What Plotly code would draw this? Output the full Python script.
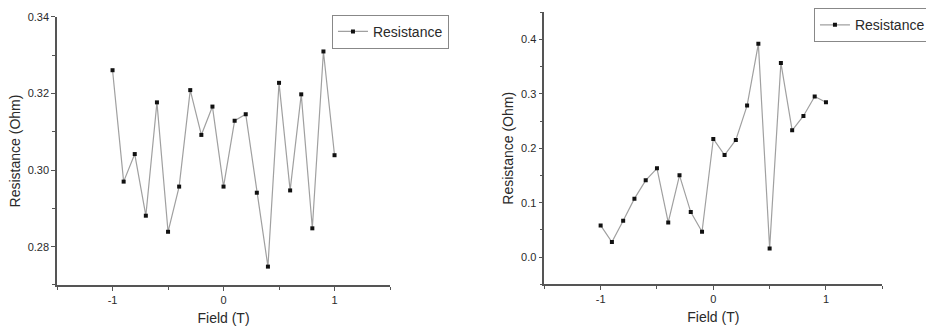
import plotly.graph_objects as go

field = [-1.0, -0.9, -0.8, -0.7, -0.6, -0.5, -0.4, -0.3, -0.2, -0.1, 0.0,
         0.1, 0.2, 0.3, 0.4, 0.5, 0.6, 0.7, 0.8, 0.9, 1.0]
res_left = [0.3261, 0.2970, 0.3042, 0.2881, 0.3177, 0.2839, 0.2957, 0.3209,
            0.3092, 0.3166, 0.2957, 0.3129, 0.3146, 0.2941, 0.2748, 0.3228,
            0.2947, 0.3198, 0.2848, 0.3310, 0.3039]
res_right = [0.0583, 0.0276, 0.0669, 0.1074, 0.1411, 0.1632, 0.0638, 0.1503,
             0.0828, 0.0466, 0.2172, 0.1877, 0.2153, 0.2785, 0.3920, 0.0160,
             0.3570, 0.2331, 0.2595, 0.2951, 0.2847]

FONT = "Liberation Sans, Arial, sans-serif"
LINE_C = "#a0a0a0"
AX_C = "#555555"
TXT_C = "#2a2a2a"

fig = go.Figure()
fig.add_trace(go.Scatter(x=field, y=res_left, mode="lines+markers", name="Resistance",
                         line=dict(color=LINE_C, width=1.2),
                         marker=dict(symbol="square", size=4, color="#111111"),
                         xaxis="x", yaxis="y", legend="legend"))
fig.add_trace(go.Scatter(x=field, y=res_right, mode="lines+markers", name="Resistance",
                         line=dict(color=LINE_C, width=1.2),
                         marker=dict(symbol="square", size=4, color="#111111"),
                         xaxis="x2", yaxis="y2", legend="legend2"))

axis_common = dict(showline=True, linecolor=AX_C, linewidth=1.5, ticks="outside",
                   ticklen=4, tickwidth=1.2, tickcolor=AX_C, showgrid=False,
                   zeroline=False, tickfont=dict(family=FONT, size=11, color=TXT_C),
                   title_font=dict(family=FONT, size=14, color=TXT_C), mirror=False)

fig.update_layout(
    width=926, height=330, margin=dict(l=0, r=0, t=0, b=0, autoexpand=False),
    paper_bgcolor="white", plot_bgcolor="white",
    xaxis=dict(domain=[0.0616, 0.4212], range=[-1.5, 1.5], tickvals=[-1, 0, 1],
               ticktext=["-1", "0", "1"], anchor="y",
               minor=dict(tickvals=[-1.5, -0.5, 0.5, 1.5], ticks="outside", ticklen=3, tickcolor=AX_C),
               title=dict(text="Field (T)", standoff=8), **axis_common),
    yaxis=dict(domain=[0.1364, 0.9485], range=[0.27, 0.34], tickvals=[0.28, 0.30, 0.32, 0.34],
               ticktext=["0.28", "0.30", "0.32", "0.34"], anchor="x",
               minor=dict(tickvals=[0.27, 0.29, 0.31, 0.33], ticks="outside", ticklen=3, tickcolor=AX_C),
               title=dict(text="Resistance (Ohm)", standoff=4), **axis_common),
    xaxis2=dict(domain=[0.5878, 0.9528], range=[-1.5, 1.5], tickvals=[-1, 0, 1],
                ticktext=["-1", "0", "1"], anchor="y2",
                minor=dict(tickvals=[-1.5, -0.5, 0.5, 1.5], ticks="outside", ticklen=3, tickcolor=AX_C),
                title=dict(text="Field (T)", standoff=8), **axis_common),
    yaxis2=dict(domain=[0.1385, 0.9627], range=[-0.05, 0.45], tickvals=[0.0, 0.1, 0.2, 0.3, 0.4],
                ticktext=["0.0", "0.1", "0.2", "0.3", "0.4"], anchor="x2",
                minor=dict(tickvals=[-0.05, 0.05, 0.15, 0.25, 0.35, 0.45], ticks="outside", ticklen=3, tickcolor=AX_C),
                title=dict(text="Resistance (Ohm)", standoff=4), **axis_common),
    legend=dict(x=0.3585, y=0.955, xanchor="left", yanchor="top",
                bordercolor="#888888", borderwidth=1, bgcolor="white",
                font=dict(family=FONT, size=14, color=TXT_C), itemwidth=30,
                tracegroupgap=0),
    legend2=dict(x=0.879, y=0.975, xanchor="left", yanchor="top",
                 bordercolor="#888888", borderwidth=1, bgcolor="white",
                 font=dict(family=FONT, size=14, color=TXT_C), itemwidth=30,
                 tracegroupgap=0),
    showlegend=True,
)

fig.write_html("out.html")
